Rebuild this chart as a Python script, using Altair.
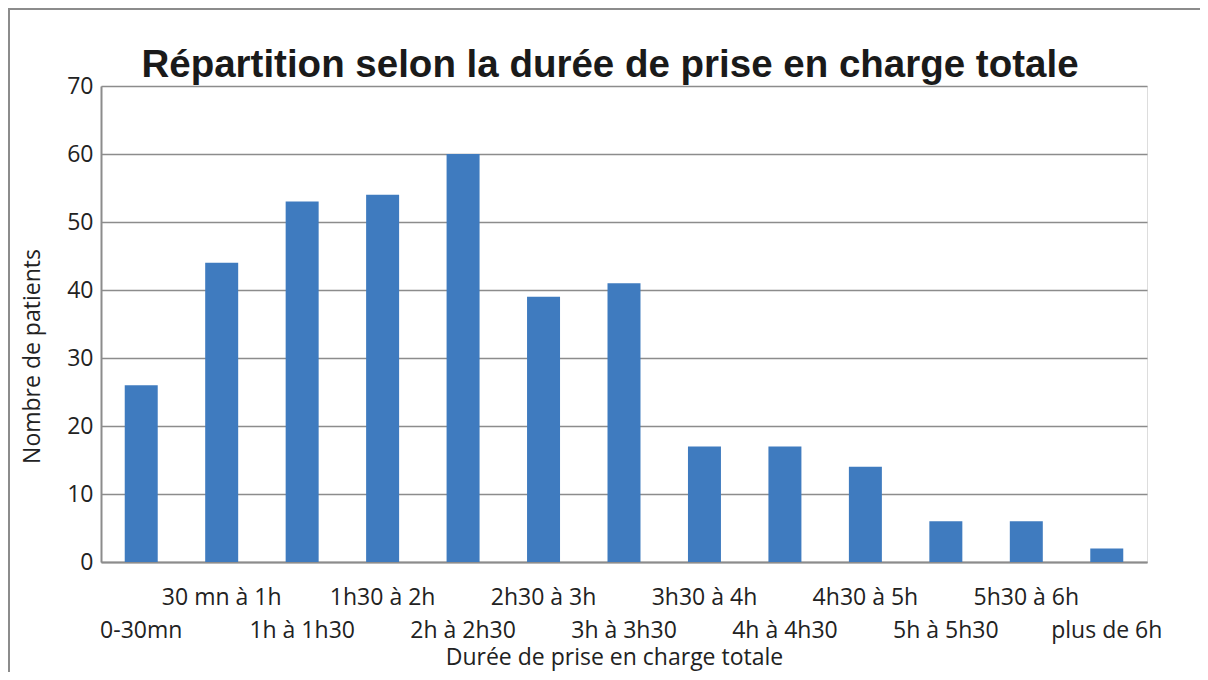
import altair as alt
import pandas as pd

categories = ["0-30mn", "30 mn à 1h", "1h à 1h30", "1h30 à 2h", "2h à 2h30", "2h30 à 3h",
              "3h à 3h30", "3h30 à 4h", "4h à 4h30", "4h30 à 5h", "5h à 5h30", "5h30 à 6h",
              "plus de 6h"]
patients = [26, 44, 53, 54, 60, 39, 41, 17, 17, 14, 6, 6, 2]
y_ticks = [0, 10, 20, 30, 40, 50, 60, 70]
chart_title = "Répartition selon la durée de prise en charge totale"

df = pd.DataFrame({"cat": categories, "n": patients})

lower_row = categories[0::2]
lower_js = "[" + ",".join("'" + c + "'" for c in lower_row) + "]"
label_expr = f"indexof({lower_js}, datum.value) >= 0 ? ['', datum.value] : [datum.value]"

GRAY = "#8c8c8c"
LABEL_FONT = "Open Sans"
FS = 23

bars = alt.Chart(df).mark_bar(color="#3f7bbf").encode(
    x=alt.X("cat:N", sort=categories,
            scale=alt.Scale(paddingInner=0.59, paddingOuter=0.295),
            axis=alt.Axis(title="Durée de prise en charge totale", labelAngle=0,
                          labelExpr=label_expr, labelOverlap=False, labelLineHeight=33,
                          labelPadding=24, labelBaseline="top", ticks=False,
                          domainColor=GRAY, domainWidth=2,
                          labelFont=LABEL_FONT, labelFontSize=FS, labelColor="#222222",
                          titleFont=LABEL_FONT, titleFontSize=FS, titleFontWeight="normal",
                          titleColor="#222222", titleX=513, titleY=95,
                          titleBaseline="middle", titleAnchor="middle")),
    y=alt.Y("n:Q", scale=alt.Scale(domain=[0, 70], nice=False),
            axis=alt.Axis(title="Nombre de patients", values=y_ticks, ticks=False,
                          grid=True, gridColor=GRAY, gridWidth=1.5,
                          domainColor=GRAY, domainWidth=2, labelPadding=8,
                          labelFont=LABEL_FONT, labelFontSize=FS, labelColor="#222222",
                          titleFont=LABEL_FONT, titleFontSize=FS, titleFontWeight="normal",
                          titleColor="#222222", titleX=-69, titleY=270,
                          titleBaseline="middle", titleAnchor="middle")),
)

frame_df = pd.DataFrame({"t": [chart_title]})
left_border = alt.Chart(frame_df).mark_rule(color=GRAY, strokeWidth=2).encode(
    x=alt.value(-92), y=alt.value(-78), y2=alt.value(600))
top_border = alt.Chart(frame_df).mark_rule(color=GRAY, strokeWidth=2).encode(
    x=alt.value(-93), x2=alt.value(1110), y=alt.value(-77))
title_text = alt.Chart(frame_df).mark_text(
    font="Liberation Sans", fontSize=38.5, fontWeight="bold", color="#1a1a1a",
    align="center", baseline="alphabetic").encode(
    text="t:N", x=alt.value(509), y=alt.value(-9))

chart = alt.layer(bars, left_border, top_border, title_text).properties(
    width=1046, height=476,
    autosize=alt.AutoSizeParams(type="none"),
    padding={"left": 93, "top": 78, "right": 53, "bottom": 110},
).configure_view(stroke=None).configure(background="white")

chart.save("out.html", embed_options={"renderer": "svg", "actions": False})
